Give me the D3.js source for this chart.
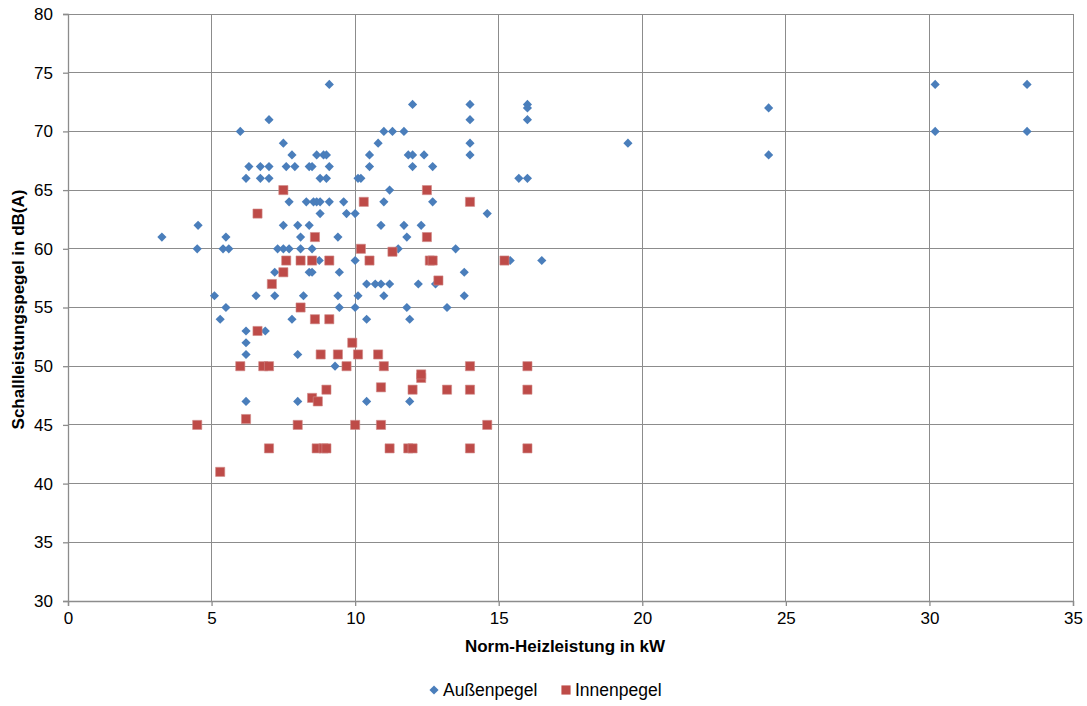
<!DOCTYPE html>
<html>
<head>
<meta charset="utf-8">
<script src="https://cdn.jsdelivr.net/npm/d3@7/dist/d3.min.js"></script>
<style>
  html, body { margin: 0; padding: 0; background: #fff; }
  svg { display: block; font-family: "Liberation Sans", Arial, sans-serif; }
</style>
</head>
<body>
<svg id="chart" width="1087" height="706"></svg>
<script>
// Norm-Heizleistung (kW) vs. Schallleistungspegel (dB(A))
const aussenX = [3.27, 4.53, 4.5, 5.1, 5.3, 5.5, 5.4, 5.6, 5.5, 6.0, 6.2, 6.3, 6.2, 6.2, 6.2, 6.2, 6.55, 6.7, 6.7, 6.87,
  7.0, 7.0, 7.0, 7.2, 7.2, 7.3, 7.5, 7.7, 7.5, 7.6, 7.7, 7.5, 7.8, 7.9, 7.8, 8.0, 8.0, 8.0, 8.1, 8.1,
  8.2, 8.3, 8.4, 8.4, 8.5, 8.4, 8.5, 8.5, 8.55, 8.66, 8.66, 8.78, 8.78, 8.78, 8.75, 8.9, 9.0, 9.0, 9.1, 9.1,
  9.1, 9.3, 9.4, 9.45, 9.4, 9.45, 9.6, 9.7, 10.0, 10.0, 10.0, 10.1, 10.1, 10.2, 10.4, 10.4, 10.4, 10.5, 10.5, 10.7,
  10.8, 10.9, 10.9, 11.0, 11.0, 11.0, 11.2, 11.2, 11.3, 11.5, 11.7, 11.7, 11.8, 11.8, 11.85, 11.9, 11.9, 12.0, 12.0, 12.0,
  12.2, 12.3, 12.4, 12.7, 12.7, 12.8, 13.2, 13.5, 13.8, 13.8, 14.0, 14.0, 14.0, 14.0, 14.6, 15.4, 15.7, 16.0, 16.0, 16.0,
  16.0, 16.5, 19.5, 24.4, 24.4, 30.2, 30.2, 33.4, 33.4];
const aussenY = [61, 62, 60, 56, 54, 55, 60, 60, 61, 70, 66, 67, 53, 52, 51, 47, 56, 67, 66, 53,
  71, 67, 66, 58, 56, 60, 60, 60, 69, 67, 64, 62, 68, 67, 54, 62, 51, 47, 61, 60,
  56, 64, 62, 58, 58, 67, 67, 60, 64, 64, 68, 64, 63, 66, 59, 68, 68, 66, 74, 67,
  64, 50, 61, 58, 56, 55, 64, 63, 63, 59, 55, 56, 66, 66, 57, 54, 47, 68, 67, 57,
  69, 62, 57, 70, 64, 56, 65, 57, 70, 60, 70, 62, 61, 55, 68, 54, 47, 72.3, 68, 67,
  57, 62, 68, 67, 64, 57, 55, 60, 58, 56, 72.3, 71, 69, 68, 63, 59, 66, 72.3, 72, 71,
  66, 59, 69, 72, 68, 74, 70, 74, 70];

const innenX = [4.5, 5.3, 6.0, 6.2, 6.6, 6.6, 6.8, 7.0, 7.0, 7.1, 7.5, 7.5, 7.6, 8.0, 8.1, 8.1, 8.5, 8.5, 8.6, 8.6,
  8.7, 8.66, 8.8, 8.9, 9.0, 9.0, 9.1, 9.1, 9.4, 9.7, 9.9, 10.0, 10.1, 10.2, 10.3, 10.5, 10.8, 10.9, 10.9, 11.0,
  11.2, 11.3, 11.85, 12.0, 12.0, 12.3, 12.3, 12.5, 12.5, 12.6, 12.7, 12.9, 13.2, 14.0, 14.0, 14.0, 14.0, 14.6, 15.2, 16.0,
  16.0, 16.0];
const innenY = [45, 41, 50, 45.5, 63, 53, 50, 50, 43, 57, 65, 58, 59, 45, 59, 55, 59, 47.3, 61, 54,
  47, 43, 51, 43, 48, 43, 59, 54, 51, 50, 52, 45, 51, 60, 64, 59, 51, 48.2, 45, 50,
  43, 59.75, 43, 48, 43, 49.0, 49.3, 65, 61, 59, 59, 57.3, 48, 64, 50, 48, 43, 45, 59, 50,
  48, 43];

const seriesNames = ["Außenpegel", "Innenpegel"];
const xTicks = [0, 5, 10, 15, 20, 25, 30, 35];
const yTicks = [30, 35, 40, 45, 50, 55, 60, 65, 70, 75, 80];
const xTitle = "Norm-Heizleistung in kW";
const yTitle = "Schallleistungspegel in dB(A)";

const blue = "#4a7ebb";
const red = "#be4b48";

const svg = d3.select("#chart");
const plot = { left: 68, right: 1073, top: 14, bottom: 601 };

const x = d3.scaleLinear().domain([0, 35]).range([plot.left, plot.right]);
const y = d3.scaleLinear().domain([30, 80]).range([plot.bottom, plot.top]);

// gridlines
svg.append("g").selectAll("line.h").data(yTicks).join("line")
  .attr("x1", plot.left).attr("x2", plot.right)
  .attr("y1", d => y(d)).attr("y2", d => y(d))
  .attr("stroke", "#8c8c8c").attr("stroke-width", 1)
  .attr("shape-rendering", "crispEdges");
svg.append("g").selectAll("line.v").data(xTicks.slice(1)).join("line")
  .attr("x1", d => x(d)).attr("x2", d => x(d))
  .attr("y1", plot.top).attr("y2", plot.bottom)
  .attr("stroke", "#8c8c8c").attr("stroke-width", 1)
  .attr("shape-rendering", "crispEdges");

// axes
const xAxis = d3.axisBottom(x).tickValues(xTicks).tickSize(5).tickPadding(6).tickFormat(d3.format("d"));
const yAxis = d3.axisLeft(y).tickValues(yTicks).tickSize(5).tickPadding(10).tickFormat(d3.format("d"));

const gx = svg.append("g").attr("transform", `translate(0,${plot.bottom})`).call(xAxis);
const gy = svg.append("g").attr("transform", `translate(${plot.left},0)`).call(yAxis);

[gx, gy].forEach(g => {
  g.select(".domain").attr("stroke", "#8c8c8c").attr("stroke-width", 1.3);
  g.selectAll(".tick line").attr("stroke", "#8c8c8c").attr("stroke-width", 1.3);
  g.selectAll(".tick text").attr("fill", "#000").style("font-size", "17px")
    .style("font-family", '"Liberation Sans", Arial, sans-serif');
});

// axis titles
svg.append("text")
  .attr("x", 565).attr("y", 652)
  .attr("text-anchor", "middle")
  .style("font-size", "17px").style("font-weight", "bold")
  .text(xTitle);
svg.append("text")
  .attr("transform", `translate(24,${(plot.top + plot.bottom) / 2 + 2}) rotate(-90)`)
  .attr("text-anchor", "middle")
  .style("font-size", "17px").style("font-weight", "bold")
  .text(yTitle);

// markers
const diamond = d3.symbol().type(d3.symbolSquare).size(42);
const square = d3.symbol().type(d3.symbolSquare).size(84);

const aussen = aussenX.map((v, i) => ({ x: v, y: aussenY[i] }));
const innen = innenX.map((v, i) => ({ x: v, y: innenY[i] }));

svg.append("g").selectAll("path").data(aussen).join("path")
  .attr("d", diamond)
  .attr("transform", d => `translate(${x(d.x)},${y(d.y)}) rotate(45)`)
  .attr("fill", blue);

svg.append("g").selectAll("path").data(innen).join("path")
  .attr("d", square)
  .attr("transform", d => `translate(${x(d.x)},${y(d.y)})`)
  .attr("fill", red)
  .attr("stroke", "#d08a88").attr("stroke-width", 0.6);

// legend
const legend = svg.append("g").attr("transform", "translate(0,690)");
legend.append("path").attr("d", diamond).attr("transform", "translate(434,0) rotate(45)").attr("fill", blue);
legend.append("text").attr("x", 443).attr("y", 6).style("font-size", "17.5px").text(seriesNames[0]);
legend.append("path").attr("d", square).attr("transform", "translate(566,0)").attr("fill", red);
legend.append("text").attr("x", 575).attr("y", 6).style("font-size", "17.5px").text(seriesNames[1]);
</script>
</body>
</html>
